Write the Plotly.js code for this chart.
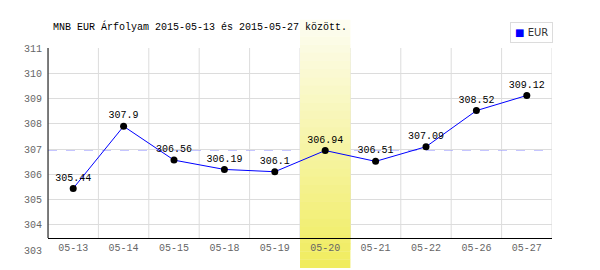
<!DOCTYPE html>
<html>
<head>
<meta charset="utf-8">
<script src="https://cdn.plot.ly/plotly-3.0.1.min.js"></script>
<style>html,body{margin:0;padding:0;background:#fff;}#chart{width:600px;height:270px;}</style>
</head>
<body>
<div id="chart"></div>
<script>
// ---- data ----
var categories = ["05-13","05-14","05-15","05-18","05-19","05-20","05-21","05-22","05-26","05-27"];
var eurRates = [305.44, 307.9, 306.56, 306.19, 306.1, 306.94, 306.51, 307.09, 308.52, 309.12];
var valueLabels = ["305.44","307.9","306.56","306.19","306.1","306.94","306.51","307.09","308.52","309.12"];
var yTickVals = [303, 304, 305, 306, 307, 308, 309, 310, 311];
var highlightCategory = "05-20";
var referenceLevel = 306.96;
var seriesName = "EUR";
var titleText = "MNB EUR Árfolyam 2015-05-13 és 2015-05-27 között.";

// ---- styling / layout ----
var yMin = 303, yMax = 311;
var axisPos = 0.0594; // paper position of the x axis line
var mono = "Liberation Mono, DejaVu Sans Mono, monospace";
var gridCol = "#dcdcdc";

var shapes = [];
// vertical gridlines at category boundaries (stop at the x axis line)
for (var g = 0; g <= categories.length; g++) {
  shapes.push({type: "line", xref: "x", yref: "paper", x0: g - 0.5, x1: g - 0.5, y0: axisPos, y1: 1,
    line: {color: gridCol, width: 1}, layer: "below"});
}
// highlight band (vertical gradient) built from strips
var hi = categories.indexOf(highlightCategory);
var bandTop = 1.139, bandBottom = -0.089, nStrips = 30;
var cTop = [253, 253, 242], cBot = [240, 236, 92];
for (var s = 0; s < nStrips; s++) {
  var p1 = bandTop - (bandTop - bandBottom) * s / nStrips;
  var p0 = bandTop - (bandTop - bandBottom) * (s + 1) / nStrips;
  var f = (s + 0.5) / nStrips;
  var col = "rgb(" + Math.round(cTop[0] + (cBot[0] - cTop[0]) * f) + "," +
            Math.round(cTop[1] + (cBot[1] - cTop[1]) * f) + "," +
            Math.round(cTop[2] + (cBot[2] - cTop[2]) * f) + ")";
  shapes.push({type: "rect", xref: "x", yref: "paper", x0: hi - 0.5, x1: hi + 0.5, y0: p0, y1: p1 + 0.001,
    fillcolor: col, line: {width: 0}, layer: "below"});
  shapes.push({type: "rect", xref: "x", yref: "y", x0: hi - 0.5, x1: hi + 0.5,
    y0: yMin + p0 * (yMax - yMin), y1: yMin + (p1 + 0.001) * (yMax - yMin),
    fillcolor: col, line: {width: 0}, layer: "between"});
}
// reference dashed line
shapes.push({type: "line", xref: "paper", yref: "y", x0: 0, x1: 1, y0: referenceLevel, y1: referenceLevel,
  line: {color: "#8c8cff", width: 1, dash: "dash"}, layer: "between"});
// y axis line (stops at the x axis line)
shapes.push({type: "line", xref: "paper", yref: "paper", x0: 0, x1: 0, y0: axisPos, y1: 1,
  line: {color: "#000", width: 1}, layer: "above"});

var traces = [
  {
    type: "scatter", mode: "lines+markers+text", name: seriesName,
    x: categories, y: eurRates, text: valueLabels,
    textposition: "top center",
    textfont: {family: mono, size: 10, color: "#000"},
    line: {color: "#0000ff", width: 1},
    marker: {color: "#000", size: 7},
    cliponaxis: false, showlegend: false, hoverinfo: "skip"
  }
];

var layout = {
  width: 600, height: 270,
  margin: {l: 48, r: 48, t: 48, b: 20, pad: 0},
  paper_bgcolor: "#fff", plot_bgcolor: "#fff",
  title: {text: titleText, font: {family: mono, size: 10, color: "#000"},
    xref: "container", x: 53 / 600, xanchor: "left", yref: "container", y: 1 - 26 / 270, yanchor: "middle"},
  xaxis: {
    type: "category", categoryorder: "array", categoryarray: categories,
    range: [-0.5, categories.length - 0.5],
    anchor: "free", position: axisPos,
    showline: true, linecolor: "#000", linewidth: 1,
    showgrid: false,
    ticks: "", tickfont: {family: mono, size: 10, color: "#666"},
    zeroline: false, fixedrange: true
  },
  yaxis: {
    range: [yMin, yMax], tickvals: yTickVals, ticktext: yTickVals.map(String),
    showline: false, showgrid: true, gridcolor: gridCol, gridwidth: 1,
    ticks: "", ticklabelstandoff: 5, tickfont: {family: mono, size: 10, color: "#666"},
    zeroline: false, fixedrange: true
  },
  annotations: [{
    xref: "paper", yref: "paper", x: 1.002, xanchor: "right", y: 1.129, yanchor: "top",
    showarrow: false, align: "left",
    text: "<span style='color:#0000ff'>■</span> " + seriesName,
    font: {family: "DejaVu Sans, sans-serif", size: 10, color: "#333"},
    bordercolor: gridCol, borderwidth: 1, borderpad: 4, bgcolor: "#fff"
  }],
  shapes: shapes,
  showlegend: false
};

Plotly.newPlot("chart", traces, layout, {displayModeBar: false, staticPlot: true});
</script>
</body>
</html>
